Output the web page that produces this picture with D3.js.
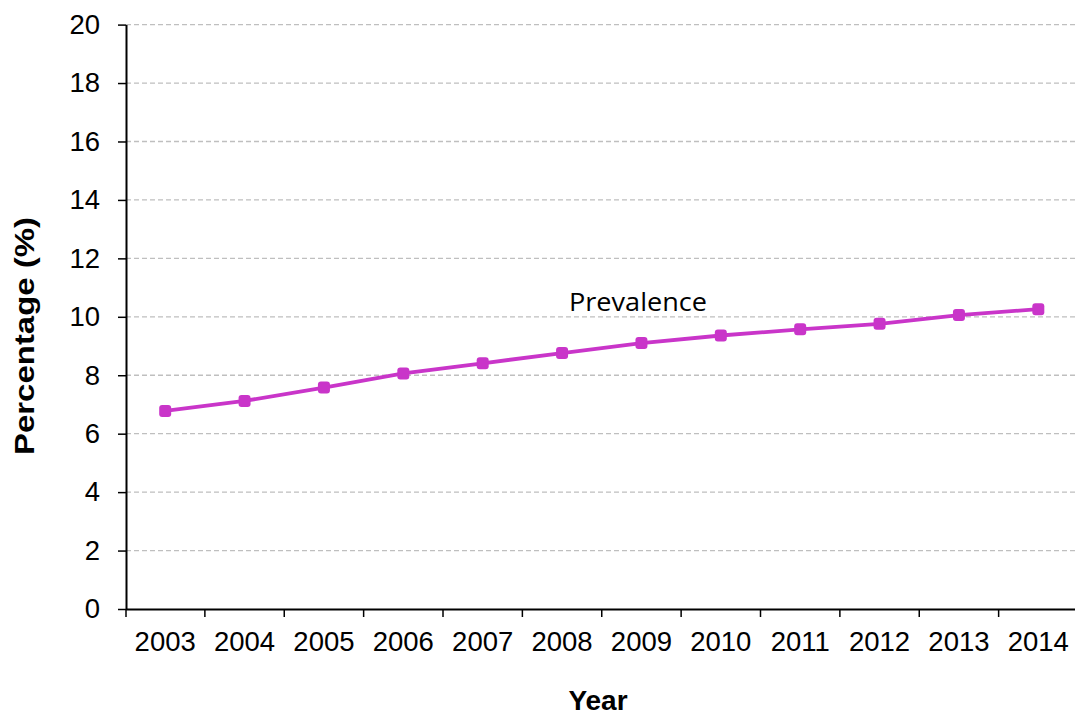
<!DOCTYPE html>
<html>
<head>
<meta charset="utf-8">
<script src="https://cdn.jsdelivr.net/npm/d3@7"></script>
<style>
  html, body { margin: 0; padding: 0; background: #fff; }
  svg { display: block; }
</style>
</head>
<body>
<svg id="chart" width="1075" height="715"></svg>
<script>
const years = ["2003","2004","2005","2006","2007","2008","2009","2010","2011","2012","2013","2014"];
const prevalence = [6.78, 7.12, 7.58, 8.06, 8.41, 8.76, 9.10, 9.36, 9.57, 9.76, 10.06, 10.26];
const yTicks = [0, 2, 4, 6, 8, 10, 12, 14, 16, 18, 20];
const seriesLabel = "Prevalence";
const xTitle = "Year";
const yTitle = "Percentage (%)";

(function () {
const svg = d3.select("#chart");
const mLeft = 125.5, mRight = 1078, mTop = 24.6, mBottom = 609;
const lineColor = "#c935c9";

const x = d3.scaleBand().domain(years).range([mLeft, mRight]).paddingInner(0).paddingOuter(0);
const y = d3.scaleLinear().domain([0, 20]).range([mBottom, mTop]);

// gridlines
svg.append("g").selectAll("line").data(yTicks.filter(d => d > 0)).join("line")
  .attr("x1", 126).attr("x2", 1075)
  .attr("y1", d => y(d)).attr("y2", d => y(d))
  .attr("stroke", "#bfbfbf").attr("stroke-width", 1.3).attr("stroke-dasharray", "5,3");

// y axis
const yAxis = svg.append("g").attr("transform", `translate(126,0)`)
  .call(d3.axisLeft(y).tickValues(yTicks).tickSize(8).tickPadding(18).tickSizeOuter(0));
yAxis.select(".domain").attr("stroke", "#000").attr("stroke-width", 2);
yAxis.selectAll(".tick line").attr("stroke", "#000").attr("stroke-width", 1.5);
yAxis.selectAll("text").attr("font-family", "'Liberation Sans', Arial, sans-serif")
  .attr("font-size", 27.5).attr("fill", "#000");

// x axis
const xAxis = svg.append("g").attr("transform", `translate(0,${mBottom})`)
  .call(d3.axisBottom(x).tickSize(0).tickPadding(22).tickSizeOuter(0));
xAxis.select(".domain").attr("stroke", "#000").attr("stroke-width", 2);
xAxis.selectAll("text").attr("font-family", "'Liberation Sans', Arial, sans-serif")
  .attr("font-size", 27.5).attr("fill", "#000");
// boundary ticks between categories
svg.append("g").selectAll("line").data(years).join("line")
  .attr("x1", d => Math.max(126, x(d))).attr("x2", d => Math.max(126, x(d)))
  .attr("y1", mBottom).attr("y2", mBottom + 8)
  .attr("stroke", "#000").attr("stroke-width", 1.5);

// line
const cx = d => x(d) + x.bandwidth() / 2;
const line = d3.line().x((d, i) => cx(years[i])).y(d => y(d));
svg.append("path").datum(prevalence)
  .attr("d", line).attr("fill", "none")
  .attr("stroke", lineColor).attr("stroke-width", 3.8);

// markers
svg.append("g").selectAll("rect").data(prevalence).join("rect")
  .attr("x", (d, i) => cx(years[i]) - 6)
  .attr("y", d => y(d) - 6)
  .attr("width", 12).attr("height", 12).attr("rx", 3)
  .attr("fill", lineColor);

// series label
svg.append("text").attr("x", 569).attr("y", 311)
  .attr("font-family", "'Open Sans', 'Noto Sans', sans-serif").attr("font-size", 25)
  .attr("textLength", 138).attr("lengthAdjust", "spacingAndGlyphs")
  .attr("fill", "#000").text(seriesLabel);

// axis titles
svg.append("text").attr("x", 598).attr("y", 710).attr("text-anchor", "middle")
  .attr("font-family", "'Liberation Sans', Arial, sans-serif").attr("font-size", 28)
  .attr("font-weight", "bold").attr("fill", "#000").text(xTitle);

svg.append("text").attr("transform", "translate(34,336) rotate(-90)")
  .attr("text-anchor", "middle")
  .attr("font-family", "'Liberation Sans', Arial, sans-serif").attr("font-size", 28)
  .attr("font-weight", "bold").attr("fill", "#000")
  .attr("textLength", 238).attr("lengthAdjust", "spacingAndGlyphs")
  .text(yTitle);
})();
</script>
</body>
</html>
